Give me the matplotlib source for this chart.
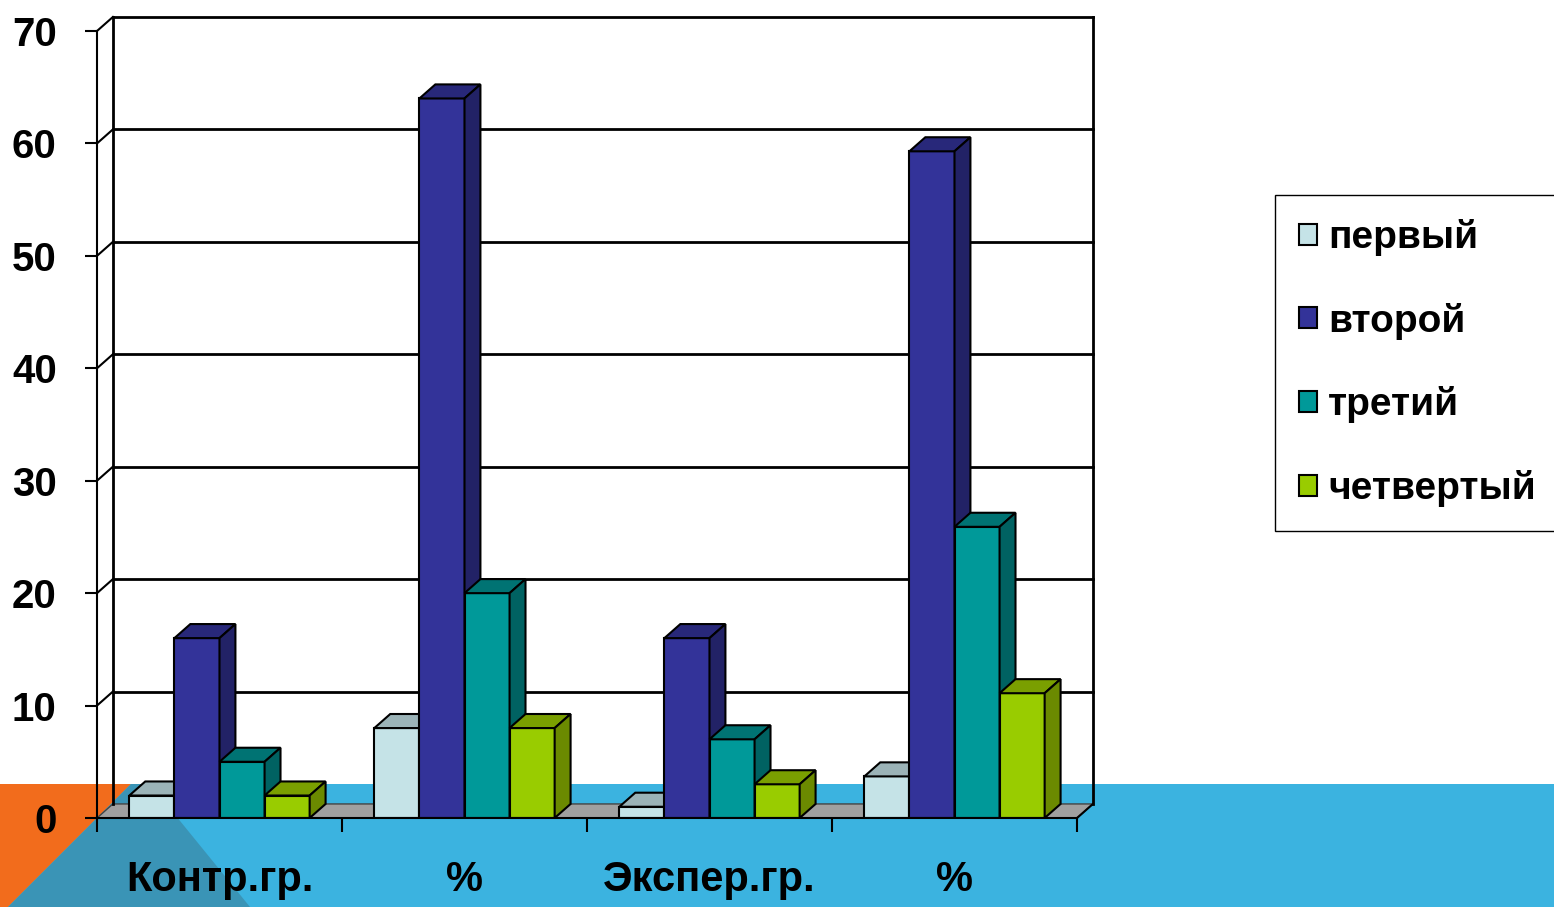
import matplotlib
matplotlib.use('Agg')
import matplotlib.pyplot as plt
from matplotlib.patches import Polygon, Patch

plt.rcParams['font.family'] = ['Liberation Sans', 'DejaVu Sans']
plt.rcParams['font.weight'] = 'bold'

# data
categories = ['Контр.гр.', '%', 'Экспер.гр.', '%']
series = ['первый', 'второй', 'третий', 'четвертый']
pervyi = [2, 8, 1, 3.7]
vtoroi = [16, 64, 16, 59.3]
tretii = [5, 20, 7, 25.9]
chetvertyi = [2, 8, 3, 11.1]
y_ticks = [0, 10, 20, 30, 40, 50, 60, 70]

values = [pervyi, vtoroi, tretii, chetvertyi]

front_colors = ['#c5e3e7', '#333399', '#009999', '#99cc00']
top_colors = ['#9bb3b7', '#28287a', '#007373', '#7a9f00']
side_colors = ['#8aa2a6', '#222266', '#006262', '#6b8a00']

W, H = 1554, 907
fig = plt.figure(figsize=(W / 100, H / 100), dpi=100)

# slide background (white top, blue band, orange corner)
bg = fig.add_axes([0, 0, 1, 1], zorder=-1)
bg.set_xlim(0, W)
bg.set_ylim(H, 0)
bg.axis('off')
bg.add_patch(Polygon([(0, 784), (W, 784), (W, H), (0, H)], color='#3bb3e0', lw=0))
bg.add_patch(Polygon([(0, 784), (131, 784), (8, H), (0, H)], color='#f26c1c', lw=0))
bg.add_patch(Polygon([(131, 784), (150, 784), (250, H), (8, H)], color='#3a94b6', lw=0))

ax = fig.add_axes([97 / W, (H - 818) / H, 980 / W, (818 - 31) / H])
n_groups = len(categories)
ax.set_xlim(0, n_groups)
ax.set_ylim(0, y_ticks[-1])
ax.patch.set_visible(False)
for s in ['top', 'right']:
    ax.spines[s].set_visible(False)
for s in ['left', 'bottom']:
    ax.spines[s].set_linewidth(1.5)
    ax.spines[s].set_zorder(10)

# 3d depth (in data units)
dx = 0.065
dy = 1.25
ymax = y_ticks[-1]

# floor
ax.add_patch(Polygon([(0, 0), (n_groups, 0), (n_groups + dx, dy), (dx, dy)],
                     fc='#a0a0a0', ec='#444444', lw=1, clip_on=False, zorder=1))
# back wall + left wall grid
for v in y_ticks[1:]:
    ax.plot([dx, n_groups + dx], [v + dy, v + dy], color='black', lw=2, clip_on=False, zorder=1)
    ax.plot([0, dx], [v, v + dy], color='black', lw=1.5, clip_on=False, zorder=1)
ax.plot([dx, dx], [dy, ymax + dy], color='black', lw=2, clip_on=False, zorder=1)
ax.plot([n_groups + dx, n_groups + dx], [dy, ymax + dy], color='black', lw=2, clip_on=False, zorder=1)
ax.plot([n_groups, n_groups + dx], [0, dy], color='black', lw=1.5, clip_on=False, zorder=1)

bw = 0.184
start = (1 - len(series) * bw) / 2
for i, vals in enumerate(values):
    xs = [g + start + i * bw for g in range(n_groups)]
    ax.bar(xs, vals, width=bw, align='edge', color=front_colors[i],
           edgecolor='black', lw=1.5, zorder=3 + i)
    for x0, v in zip(xs, vals):
        ax.add_patch(Polygon([(x0, v), (x0 + bw, v), (x0 + bw + dx, v + dy), (x0 + dx, v + dy)],
                             fc=top_colors[i], ec='black', lw=1.5, clip_on=False, zorder=3 + i))
        ax.add_patch(Polygon([(x0 + bw, 0), (x0 + bw + dx, dy), (x0 + bw + dx, v + dy), (x0 + bw, v)],
                             fc=side_colors[i], ec='black', lw=1.5, clip_on=False, zorder=3 + i))

ax.set_yticks(y_ticks)
ax.tick_params(axis='y', direction='out', length=9, width=1.5, labelsize=29, pad=20)
ax.set_xticks(range(n_groups + 1))
ax.set_xticklabels([])
ax.set_xticks([g + 0.5 for g in range(n_groups)], minor=True)
ax.set_xticklabels(categories, minor=True)
ax.tick_params(axis='x', which='major', direction='out', length=10, width=1.5)
ax.tick_params(axis='x', which='minor', length=0, labelsize=30, pad=30)

handles = [Patch(fc=c, ec='black', lw=1.5) for c in front_colors]
fig.legend(handles, series, loc='upper left', bbox_to_anchor=(1275 / W, (H - 195) / H),
           borderaxespad=0, fontsize=28, frameon=True, fancybox=False, edgecolor='black',
           framealpha=1, handlelength=0.45, handleheight=0.45, handletextpad=0.3,
           borderpad=0.62, labelspacing=1.2)

fig.savefig('out.png', dpi=100)
